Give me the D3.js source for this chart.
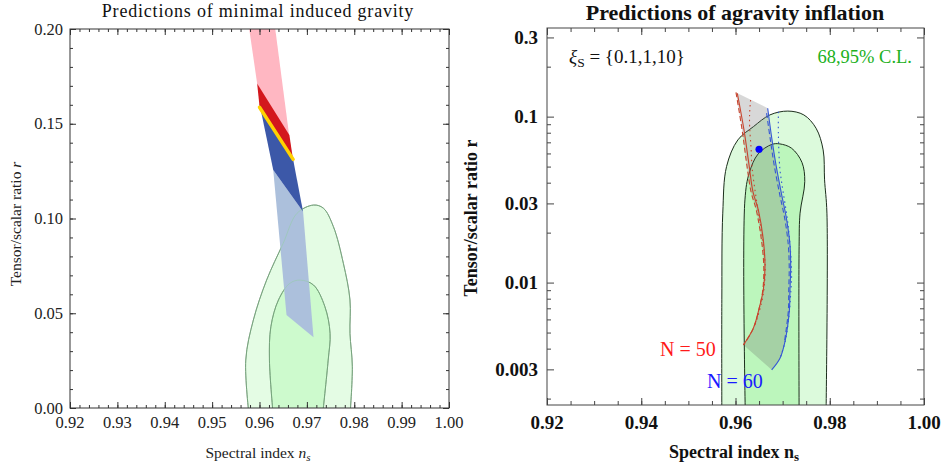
<!DOCTYPE html>
<html>
<head>
<meta charset="utf-8">
<script src="https://cdn.jsdelivr.net/npm/d3@7"></script>
<style>
  body { margin: 0; background: #fff; }
  svg { display: block; font-family: "Liberation Serif", "DejaVu Serif", serif; }
</style>
</head>
<body>
<svg id="chart" width="943" height="470"></svg>
<script>
// ---- left panel data (ns, r) ----
const leftXTicks = [0.92, 0.93, 0.94, 0.95, 0.96, 0.97, 0.98, 0.99, 1.00];
const leftYTicks = [0.00, 0.05, 0.10, 0.15, 0.20];

const pinkBand = [[0.9578, 0.2005], [0.9633, 0.2005], [0.9668, 0.1335], [0.9595, 0.1713]];
const redBand = [[0.9595, 0.1713], [0.9663, 0.1441], [0.9670, 0.1325], [0.9600, 0.1594]];
const darkBlueBand = [[0.9600, 0.1605], [0.9671, 0.1312], [0.9692, 0.1036], [0.9629, 0.1256]];
const lightBlueBand = [[0.9629, 0.1256], [0.9692, 0.1036], [0.9714, 0.0373], [0.9657, 0.0491]];
const yellowLine = [[0.9600, 0.1587], [0.9671, 0.1312]];

const leftOuter = [[0.9578, -0.004], [0.9571, 0.0253], [0.9587, 0.0464], [0.9615, 0.0675], [0.9650, 0.0869],
  [0.9679, 0.1027], [0.9714, 0.1071], [0.9735, 0.1054], [0.9756, 0.0957], [0.9777, 0.0764],
  [0.9791, 0.0570], [0.9791, 0.0394], [0.9796, 0.0218], [0.9791, -0.004]];
const leftInner = [[0.9629, -0.004], [0.9621, 0.0253], [0.9624, 0.0429], [0.9640, 0.0570], [0.9664, 0.0658],
  [0.9686, 0.0675], [0.9714, 0.0649], [0.9738, 0.0535], [0.9749, 0.0394], [0.9745, 0.0253], [0.9733, -0.004]];

// ---- right panel data (ns, r) ----
const rightXTicks = [0.92, 0.94, 0.96, 0.98, 1.00];
const rightYTicks = [0.003, 0.01, 0.03, 0.1, 0.3];
const rightYMinor = [0.002, 0.004, 0.005, 0.006, 0.007, 0.008, 0.009, 0.02, 0.04, 0.05, 0.06, 0.07, 0.08, 0.09, 0.2];

const rightOuter = [[0.9571, 0.0015], [0.9571, 0.00787], [0.9573, 0.0262], [0.9581, 0.050], [0.9605, 0.0724],
  [0.9638, 0.087], [0.9673, 0.1024], [0.9711, 0.108], [0.9745, 0.1024], [0.9771, 0.0851],
  [0.9786, 0.063], [0.9789, 0.0416], [0.9794, 0.0262], [0.9792, 0.0015]];
const rightInner = [[0.9621, 0.0015], [0.9620, 0.0315], [0.9629, 0.0456], [0.9648, 0.0596], [0.9677, 0.068],
  [0.9694, 0.0685], [0.9719, 0.0645], [0.9741, 0.053], [0.9747, 0.0406], [0.9737, 0.0262],
  [0.9735, 0.0165], [0.9735, 0.0015]];

// N = 50 curves, xi_S = 0.1 (solid), 1 (dashed), 10 (dotted)
const red50Solid = [[0.96038, 0.1383], [0.96180, 0.0832], [0.96287, 0.0512], [0.96371, 0.0352], [0.96484, 0.0274],
  [0.96590, 0.0181], [0.96626, 0.0125], [0.96590, 0.00904], [0.96520, 0.00734], [0.96378, 0.00531], [0.96166, 0.00421]];
const red50Dashed = [[0.96010, 0.1400], [0.96140, 0.0832], [0.96240, 0.0512], [0.96330, 0.0352], [0.96440, 0.0274],
  [0.96550, 0.0181], [0.96600, 0.0125], [0.96580, 0.00904], [0.96520, 0.00734], [0.96380, 0.00531], [0.96170, 0.00421]];
const red50Dotted = [[0.96320, 0.126], [0.96300, 0.105], [0.96300, 0.087], [0.96330, 0.065], [0.96350, 0.050],
  [0.96420, 0.035], [0.96500, 0.025], [0.96590, 0.017], [0.96630, 0.0125], [0.96610, 0.0095], [0.96550, 0.0075], [0.96400, 0.0054]];
// N = 60 curves
const blue60Solid = [[0.96683, 0.1124], [0.96775, 0.0724], [0.96859, 0.0512], [0.96980, 0.0338], [0.97086, 0.0239],
  [0.97156, 0.0169], [0.97171, 0.0125], [0.97156, 0.00904], [0.97141, 0.00669], [0.97050, 0.00441], [0.96944, 0.0035], [0.96768, 0.00298]];
const blue60Dashed = [[0.96660, 0.105], [0.96740, 0.0724], [0.96820, 0.0512], [0.96940, 0.0338], [0.97050, 0.0239],
  [0.97120, 0.0169], [0.97140, 0.0125], [0.97130, 0.00904], [0.97120, 0.00669], [0.97040, 0.00441]];
const blue60Dotted = [[0.96910, 0.107], [0.96910, 0.078], [0.96940, 0.049], [0.96980, 0.040], [0.97120, 0.0218],
  [0.97190, 0.0114], [0.97170, 0.0085], [0.97140, 0.0065], [0.97060, 0.0045], [0.96960, 0.0036]];
const bestPoint = [0.9650, 0.0636];

const svg = d3.select("#chart");

// ---------- helpers ----------
function ticksInward(g, x, y, majorX, minorX, majorY, minorY, bigLen, smallLen) {
  const xr = x.range(), yr = y.range();
  // bottom + top
  g.append("g").attr("transform", `translate(0,${yr[0]})`)
    .call(d3.axisBottom(x).tickValues(minorX).tickSize(-smallLen).tickFormat(""));
  g.append("g").attr("transform", `translate(0,${yr[0]})`)
    .call(d3.axisBottom(x).tickValues(majorX).tickSize(-bigLen).tickFormat(""));
  g.append("g").attr("transform", `translate(0,${yr[1]})`)
    .call(d3.axisTop(x).tickValues(minorX).tickSize(-smallLen).tickFormat(""));
  g.append("g").attr("transform", `translate(0,${yr[1]})`)
    .call(d3.axisTop(x).tickValues(majorX).tickSize(-bigLen).tickFormat(""));
  // left + right
  g.append("g").attr("transform", `translate(${xr[0]},0)`)
    .call(d3.axisLeft(y).tickValues(minorY).tickSize(-smallLen).tickFormat(""));
  g.append("g").attr("transform", `translate(${xr[0]},0)`)
    .call(d3.axisLeft(y).tickValues(majorY).tickSize(-bigLen).tickFormat(""));
  g.append("g").attr("transform", `translate(${xr[1]},0)`)
    .call(d3.axisRight(y).tickValues(minorY).tickSize(-smallLen).tickFormat(""));
  g.append("g").attr("transform", `translate(${xr[1]},0)`)
    .call(d3.axisRight(y).tickValues(majorY).tickSize(-bigLen).tickFormat(""));
  g.selectAll(".domain").remove();
}

// ================= LEFT PANEL =================
const xL = d3.scaleLinear().domain([0.92, 1.00]).range([70, 449]);
const yL = d3.scaleLinear().domain([0, 0.20]).range([408, 29]);
const left = svg.append("g");

svg.append("clipPath").attr("id", "clipL").append("rect")
  .attr("x", 70).attr("y", 29).attr("width", 379).attr("height", 379);

const lineL = d3.line().x(d => xL(d[0])).y(d => yL(d[1]));
const smoothL = d3.line().x(d => xL(d[0])).y(d => yL(d[1])).curve(d3.curveCatmullRom);
const plotL = left.append("g").attr("clip-path", "url(#clipL)");

plotL.append("path").attr("d", smoothL(leftOuter) + "Z").attr("fill", "#e4fce4").attr("stroke", "#4f6e4f").attr("stroke-width", 0.9);
plotL.append("path").attr("d", smoothL(leftInner) + "Z").attr("fill", "#cdfacd").attr("stroke", "#4f6e4f").attr("stroke-width", 0.9);

plotL.append("path").attr("d", lineL(pinkBand) + "Z").attr("fill", "#ffb7c2");
plotL.append("path").attr("d", lineL(lightBlueBand) + "Z").attr("fill", "#acc0dc");
plotL.append("path").attr("d", lineL(darkBlueBand) + "Z").attr("fill", "#3c58a8");
plotL.append("path").attr("d", lineL(redBand) + "Z").attr("fill", "#d3171d");
plotL.append("path").attr("d", lineL(yellowLine)).attr("fill", "none")
  .attr("stroke", "#ffd200").attr("stroke-width", 3.5).attr("stroke-linecap", "round");

// faint contour lines through the blue band
plotL.append("path").attr("d", smoothL(leftOuter)).attr("fill", "none").attr("stroke", "#8fcf9f").attr("stroke-width", 0.8).attr("opacity", 0.6);
plotL.append("path").attr("d", smoothL(leftInner)).attr("fill", "none").attr("stroke", "#8fcf9f").attr("stroke-width", 0.8).attr("opacity", 0.6);

const leftXMinor = d3.range(0, 41).map(i => 0.92 + i * 0.002);
const leftYMinor = d3.range(0, 21).map(i => i * 0.01);
const axL = left.append("g").attr("color", "#333");
ticksInward(axL, xL, yL, leftXTicks, leftXMinor, leftYTicks, leftYMinor, 6, 3);
left.append("rect").attr("x", 70).attr("y", 29).attr("width", 379).attr("height", 379)
  .attr("fill", "none").attr("stroke", "#333").attr("stroke-width", 1);

// tick labels
left.selectAll(".xl").data(leftXTicks).enter().append("text")
  .attr("x", d => xL(d)).attr("y", 428).attr("text-anchor", "middle")
  .attr("font-size", 16.5).attr("fill", "#222").text(d => d3.format(".2f")(d));
left.selectAll(".yl").data(leftYTicks).enter().append("text")
  .attr("x", 63).attr("y", d => yL(d) + 5.5).attr("text-anchor", "end")
  .attr("font-size", 16.5).attr("fill", "#222").text(d => d3.format(".2f")(d));

left.append("text").attr("x", 258).attr("y", 17).attr("text-anchor", "middle")
  .attr("font-size", 18).attr("letter-spacing", 0.8).attr("fill", "#111").text("Predictions of minimal induced gravity");

const lxt = left.append("text").attr("x", 258).attr("y", 458).attr("text-anchor", "middle")
  .attr("font-size", 15.5).attr("fill", "#222");
lxt.append("tspan").text("Spectral index ");
lxt.append("tspan").attr("font-style", "italic").text("n");
lxt.append("tspan").attr("font-style", "italic").attr("font-size", 11).attr("dy", 3).text("s");

const lyt = left.append("text").attr("transform", "translate(21,224) rotate(-90)").attr("text-anchor", "middle")
  .attr("font-size", 15.5).attr("fill", "#222");
lyt.append("tspan").text("Tensor/scalar ratio ");
lyt.append("tspan").attr("font-style", "italic").text("r");

// ================= RIGHT PANEL =================
const xR = d3.scaleLinear().domain([0.92, 1.00]).range([547, 924]);
const yR = d3.scaleLog().domain([0.00183, 0.342]).range([405, 28]);
const right = svg.append("g");

svg.append("clipPath").attr("id", "clipR").append("rect")
  .attr("x", 547).attr("y", 28).attr("width", 377).attr("height", 377);

const smoothR = d3.line().x(d => xR(d[0])).y(d => yR(d[1])).curve(d3.curveCatmullRom);
const plotR = right.append("g").attr("clip-path", "url(#clipR)");

plotR.append("path").attr("d", smoothR(rightOuter) + "Z").attr("fill", "#dcfadc").attr("stroke", "#1c2e1c").attr("stroke-width", 1);
plotR.append("path").attr("d", smoothR(rightInner) + "Z").attr("fill", "#bcf6bc").attr("stroke", "#1c2e1c").attr("stroke-width", 1);

// shaded band between N=50 and N=60: blue side down, straight bottom, red side up, straight top
const bandPath = smoothR(blue60Solid) + "L" + smoothR(red50Dashed.slice().reverse()).slice(1) + "Z";
plotR.append("path").attr("d", bandPath)
  .attr("fill", "#5a5a5a").attr("fill-opacity", 0.24);

const curves = [
  [red50Solid, "#c8442e", null],
  [red50Dashed, "#c8442e", "5,3"],
  [red50Dotted, "#c8442e", "1.5,3.5"],
  [blue60Solid, "#3557d6", null],
  [blue60Dashed, "#3557d6", "5,3"],
  [blue60Dotted, "#3557d6", "1.5,3.5"]
];
curves.forEach(c => {
  plotR.append("path").attr("d", smoothR(c[0])).attr("fill", "none")
    .attr("stroke", c[1]).attr("stroke-width", 1.1).attr("stroke-dasharray", c[2]);
});

plotR.append("circle").attr("cx", xR(bestPoint[0])).attr("cy", yR(bestPoint[1])).attr("r", 3.6).attr("fill", "#0000ff");

const rightXMinor = d3.range(0, 17).map(i => 0.92 + i * 0.005);
const axR = right.append("g").attr("color", "#444");
ticksInward(axR, xR, yR, rightXTicks, rightXMinor, rightYTicks, rightYMinor, 7, 4);
right.append("rect").attr("x", 547).attr("y", 28).attr("width", 377).attr("height", 377)
  .attr("fill", "none").attr("stroke", "#444").attr("stroke-width", 1);

right.selectAll(".xr").data(rightXTicks).enter().append("text")
  .attr("x", d => xR(d)).attr("y", 429).attr("text-anchor", "middle")
  .attr("font-size", 19).attr("font-weight", "bold").attr("fill", "#111").text(d => d3.format(".2f")(d));
right.selectAll(".yr").data(rightYTicks).enter().append("text")
  .attr("x", 538).attr("y", d => yR(d) + 6.5).attr("text-anchor", "end")
  .attr("font-size", 19).attr("font-weight", "bold").attr("fill", "#111").text(d => d);

right.append("text").attr("x", 735).attr("y", 20).attr("text-anchor", "middle")
  .attr("font-size", 22).attr("font-weight", "bold").attr("fill", "#111").text("Predictions of agravity inflation");

const rxt = right.append("text").attr("x", 734).attr("y", 458).attr("text-anchor", "middle")
  .attr("font-size", 18).attr("font-weight", "bold").attr("fill", "#111");
rxt.append("tspan").text("Spectral index n");
rxt.append("tspan").attr("font-size", 13).attr("dy", 3).text("s");

right.append("text").attr("transform", "translate(477,218) rotate(-90)").attr("text-anchor", "middle")
  .attr("font-size", 18).attr("font-weight", "bold").attr("fill", "#111").text("Tensor/scalar ratio r");

// annotations
const xi = right.append("text").attr("x", 569).attr("y", 63).attr("font-size", 19).attr("fill", "#111");
xi.append("tspan").attr("font-style", "italic").text("ξ");
xi.append("tspan").attr("font-size", 13.5).attr("dy", 4).text("S");
xi.append("tspan").attr("dy", -4).text(" = {0.1,1,10}");

right.append("text").attr("x", 912).attr("y", 63).attr("text-anchor", "end")
  .attr("font-size", 18.5).attr("fill", "#20b020").text("68,95% C.L.");

right.append("text").attr("x", 660).attr("y", 356).attr("font-size", 20).attr("fill", "#ff1a1a").text("N = 50");
right.append("text").attr("x", 707).attr("y", 388).attr("font-size", 20).attr("fill", "#1a1aff").text("N = 60");
</script>
</body>
</html>
